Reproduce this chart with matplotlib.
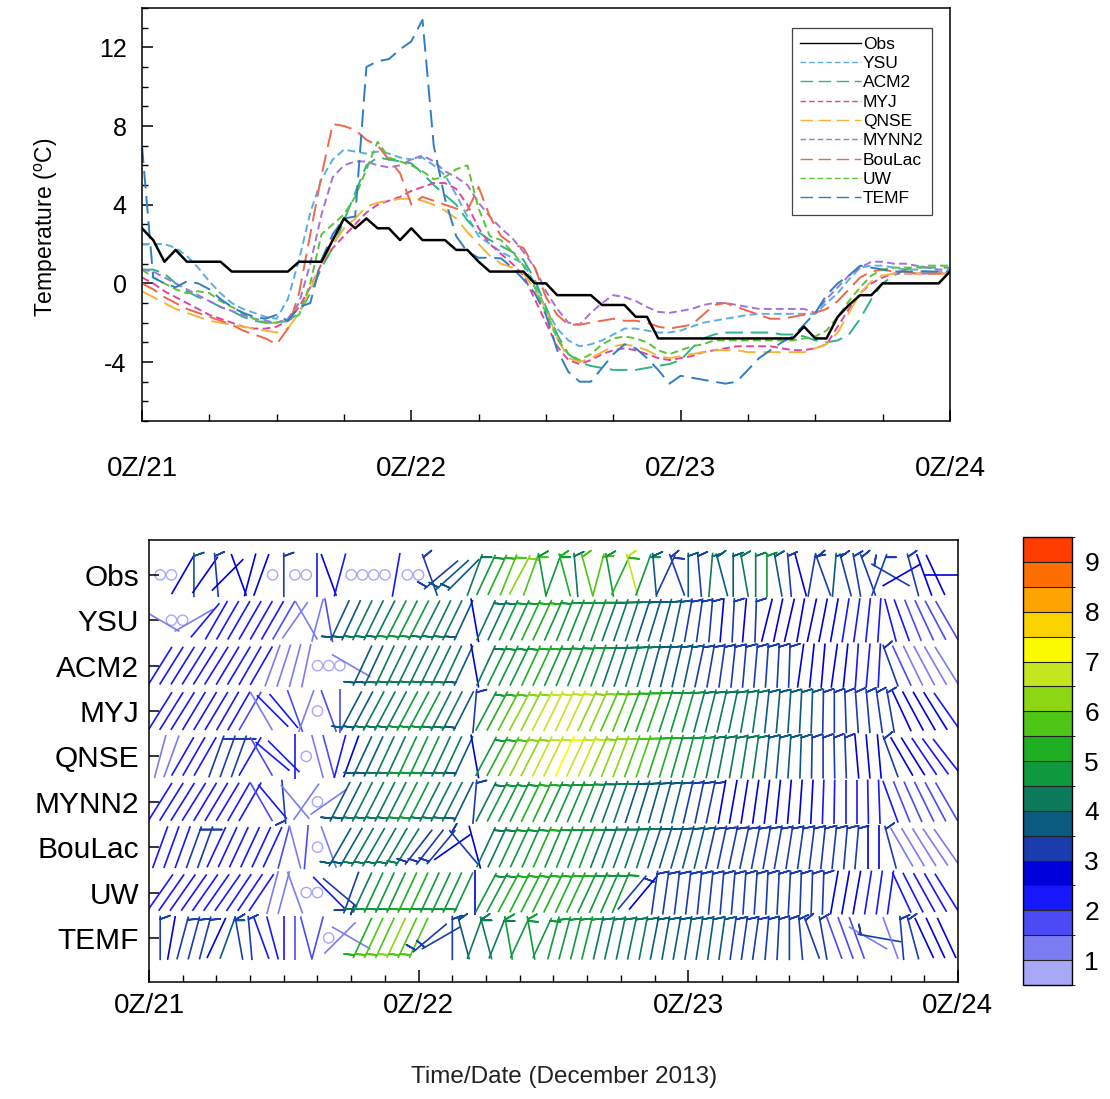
import numpy as np
import matplotlib
matplotlib.use("Agg")
import matplotlib.pyplot as plt
from matplotlib.collections import LineCollection
from matplotlib.colors import ListedColormap, BoundaryNorm
from matplotlib.transforms import Affine2D
from matplotlib.cm import ScalarMappable

plt.rcParams['font.family'] = ['Liberation Sans', 'DejaVu Sans']
plt.rcParams['mathtext.default'] = 'regular'
plt.rcParams['axes.unicode_minus'] = False

# ---------------- temperature (hourly, 0Z/21 .. 0Z/24) ----------------
hours = np.arange(73)

obs_t = [2.8, 2.2, 1.1, 1.7, 1.1, 1.1, 1.1, 1.1, 0.6, 0.6,
         0.6, 0.6, 0.6, 0.6, 1.1, 1.1, 1.1, 2.2, 3.3, 2.8,
         3.3, 2.8, 2.8, 2.2, 2.8, 2.2, 2.2, 2.2, 1.7, 1.7,
         1.1, 0.6, 0.6, 0.6, 0.6, 0.0, 0.0, -0.6, -0.6, -0.6,
         -0.6, -1.1, -1.1, -1.1, -1.7, -1.7, -2.8, -2.8, -2.8, -2.8,
         -2.8, -2.8, -2.8, -2.8, -2.8, -2.8, -2.8, -2.8, -2.8, -2.2,
         -2.8, -2.8, -1.7, -1.1, -0.6, -0.6, 0.0, 0.0, 0.0, 0.0,
         0.0, 0.0, 0.6]

ysu_t = [2.0, 2.0, 2.0, 1.8, 1.4, 0.8, 0.1, -0.5, -1.0, -1.3,
         -1.5, -1.7, -1.8, -0.8, 1.2, 3.6, 5.3, 6.3, 6.8, 6.7,
         6.6, 6.7, 6.6, 6.4, 6.3, 6.4, 6.0, 5.5, 4.5, 3.4,
         2.4, 2.0, 1.6, 1.3, 1.0, 0.0, -1.3, -2.3, -2.9, -3.2,
         -3.1, -2.9, -2.6, -2.3, -2.3, -2.4, -2.5, -2.5, -2.4, -2.2,
         -2.0, -1.9, -1.8, -1.7, -1.6, -1.55, -1.55, -1.55, -1.55, -1.55,
         -1.55, -1.0, -0.5, 0.2, 0.8, 0.9, 0.9, 0.8, 0.7, 0.7,
         0.6, 0.6, 0.6]

acm2_t = [0.7, 0.7, 0.5, 0.0, -0.4, -0.7, -0.9, -1.2, -1.4, -1.7,
          -1.9, -2.0, -2.0, -1.9, -1.5, -0.5, 0.8, 1.8, 3.2, 4.6,
          6.0, 6.4, 6.3, 6.2, 6.1, 5.6, 5.0, 4.5, 4.0, 3.2,
          2.6, 2.2, 1.9, 1.6, 1.2, 0.2, -1.2, -2.6, -3.6, -4.0,
          -4.2, -4.3, -4.4, -4.4, -4.4, -4.3, -4.2, -4.1, -3.9, -3.3,
          -2.8, -2.6, -2.5, -2.5, -2.5, -2.5, -2.5, -2.6, -2.6, -2.7,
          -2.9, -3.0, -2.9, -2.6, -1.8, -0.8, 0.0, 0.4, 0.7, 0.8,
          0.8, 0.8, 0.8]

myj_t = [0.3, 0.0, -0.4, -0.7, -1.0, -1.3, -1.6, -1.8, -2.0, -2.2,
         -2.3, -2.3, -2.2, -1.9, -1.2, -0.2, 1.0, 1.8, 2.4, 3.0,
         3.6, 4.0, 4.2, 4.4, 4.7, 4.9, 5.1, 5.1, 4.8, 4.0,
         2.8, 2.0, 1.5, 1.0, 0.4, -0.8, -2.0, -3.2, -3.9, -4.1,
         -3.9, -3.6, -3.4, -3.3, -3.4, -3.6, -3.8, -3.9, -3.8, -3.7,
         -3.5, -3.4, -3.3, -3.2, -3.2, -3.2, -3.2, -3.3, -3.4, -3.4,
         -3.3, -3.1, -2.2, -1.3, -0.5, 0.0, 0.3, 0.5, 0.5, 0.5,
         0.5, 0.5, 0.5]

qnse_t = [-0.4, -0.7, -1.0, -1.3, -1.5, -1.7, -1.9, -2.0, -2.1, -2.2,
          -2.3, -2.4, -2.5, -2.3, -1.5, -0.3, 1.0, 2.0, 2.8, 3.3,
          3.9, 4.1, 4.2, 4.3, 4.3, 4.2, 4.0, 3.7, 3.3, 2.6,
          2.0, 1.4, 1.0, 0.8, 0.5, -0.3, -1.3, -2.8, -3.8, -4.0,
          -3.8, -3.5, -3.2, -3.1, -3.2, -3.4, -3.7, -3.8, -3.7, -3.6,
          -3.5, -3.4, -3.4, -3.4, -3.5, -3.5, -3.5, -3.5, -3.5, -3.5,
          -3.3, -3.1, -2.5, -1.5, -0.5, 0.1, 0.4, 0.5, 0.5, 0.5,
          0.5, 0.5, 0.5]

mynn2_t = [0.7, 0.6, 0.3, 0.0, -0.3, -0.6, -0.9, -1.2, -1.4, -1.6,
           -1.8, -1.9, -2.0, -1.8, -1.0, 1.0, 3.5, 5.4, 6.0, 6.2,
           6.2, 6.0, 5.9, 6.0, 6.3, 6.5, 6.2, 5.7, 5.4, 5.0,
           4.1, 3.4, 2.8, 2.3, 1.6, 0.8, -0.4, -1.3, -2.0, -2.1,
           -1.5, -1.0, -0.6, -0.7, -0.9, -1.2, -1.45, -1.5, -1.4, -1.3,
           -1.1, -1.0, -1.0, -1.1, -1.2, -1.3, -1.3, -1.3, -1.3, -1.3,
           -1.5, -0.8, -0.2, 0.4, 0.8, 1.1, 1.1, 1.0, 1.0, 0.9,
           0.8, 0.7, 0.7]

boulac_t = [0.0, -0.3, -0.7, -1.0, -1.3, -1.5, -1.7, -1.9, -2.1, -2.4,
            -2.6, -2.8, -3.1, -2.3, -0.5, 2.5, 5.5, 8.1, 8.0, 7.8,
            7.3, 7.0, 6.3, 5.6, 4.0, 4.4, 4.2, 4.0, 3.8, 3.7,
            4.9, 3.4, 2.4, 2.0, 1.8, 0.8, -0.7, -1.6, -2.1, -2.1,
            -2.0, -1.9, -1.8, -1.9, -1.9, -2.0, -2.2, -2.3, -2.2, -2.1,
            -1.6, -1.1, -1.0, -1.2, -1.4, -1.6, -1.8, -1.8, -1.7, -1.6,
            -1.5, -1.3, -0.9, -0.3, 0.3, 0.6, 0.7, 0.6, 0.6, 0.5,
            0.5, 0.5, 0.5]

uw_t = [0.7, 0.3, 0.0, -0.3, -0.5, -0.4, -0.5, -0.9, -1.2, -1.5,
        -1.8, -2.0, -2.0, -1.9, -1.6, 0.0, 2.5, 3.0, 3.5, 4.4,
        5.8, 7.2, 6.4, 6.2, 6.0, 5.7, 5.3, 5.4, 5.8, 6.0,
        3.8, 2.4, 2.2, 1.6, 0.9, -0.2, -1.5, -2.8, -3.6, -3.9,
        -3.6, -3.1, -2.8, -2.7, -2.8, -3.0, -3.4, -3.6, -3.4, -3.2,
        -3.1, -2.9, -2.9, -2.9, -2.9, -2.9, -2.9, -2.9, -2.9, -2.8,
        -2.7, -2.4, -1.7, -0.9, -0.2, 0.4, 0.7, 0.8, 0.8, 0.8,
        0.9, 0.9, 0.9]

temf_t = [7.0, 0.3, 0.0, -0.2, 0.1, 0.0, -0.3, -0.8, -1.2, -1.5,
          -1.7, -1.8, -1.6, -1.9, -1.2, -1.0, 1.2, 2.5, 3.3, 3.4,
          11.0, 11.3, 11.4, 11.9, 12.3, 13.4, 7.0, 4.3, 2.4, 1.6,
          1.3, 1.3, 1.27, 0.8, 0.2, -0.5, -1.6, -3.4, -4.5, -5.0,
          -5.0, -4.3, -3.6, -3.1, -3.3, -3.8, -4.4, -5.1, -4.7, -4.8,
          -4.9, -5.0, -5.1, -5.0, -4.4, -3.8, -3.4, -3.0, -2.7, -2.1,
          -1.5, -0.6, 0.0, 0.4, 0.9, 0.8, 0.7, 0.6, 0.6, 0.6,
          0.6, 0.6, 0.6]

model_names = ['YSU', 'ACM2', 'MYJ', 'QNSE', 'MYNN2', 'BouLac', 'UW', 'TEMF']
model_temps = [ysu_t, acm2_t, myj_t, qnse_t, mynn2_t, boulac_t, uw_t, temf_t]
model_colors = ['#5aaee2', '#2fb488', '#e0449e', '#f4b43a', '#a472dc', '#f0674c', '#5cc23a', '#2f7ec2']
short = (4, 2.2)
long_ = (9, 4)
model_dashes = [short, long_, short, long_, short, long_, short, long_]

# ---------------- wind barbs (hourly, 1Z/21 .. 23Z/23) ----------------
wind_hours = np.arange(1, 72)
rows = ['Obs', 'YSU', 'ACM2', 'MYJ', 'QNSE', 'MYNN2', 'BouLac', 'UW', 'TEMF']

obs_dir = [0, 0, 210, 0, 215, 355, 225, 160, 195, 200,
           0, 0, 0, 0, 180, 160, 195, 0, 0, 0,
           0, 190, 0, 0, 340, 230, 228, 225, 20, 25,
           25, 22, 28, 20, 350, 20, 345, 355, 345, 15,
           350, 25, 345, 20, 355, 25, 340, 0, 355, 5,
           345, 0, 350, 0, 0, 350, 355, 345, 10, 340,
           5, 345, 350, 340, 20, 300, 60, 345, 340, 335, 270]
obs_spd = [0.3, 0.3, 2.6, 3.5, 2.5, 3.4, 2.6, 2.9, 2.9, 2.5,
           0.3, 3.2, 0.3, 0.3, 2.4, 2.5, 2.3, 0.3, 0.3, 0.3,
           0.3, 2.4, 0.3, 0.3, 3.2, 3.3, 3.6, 3.8, 4.3, 4.6,
           5.2, 5.8, 6.3, 5.5, 4.8, 4.6, 5.0, 4.2, 5.8, 5.5,
           4.5, 5.0, 6.5, 4.5, 3.5, 3.2, 3.0, 3.8, 3.4, 4.0,
           3.8, 3.6, 4.4, 4.0, 4.6, 3.8, 3.3, 2.9, 3.0, 3.2,
           3.8, 3.4, 3.3, 3.1, 3.2, 3.0, 2.7, 3.2, 2.8, 2.8, 2.5]

ysu_dir = [120, 0, 0, 240, 220, 210, 210, 210, 210, 210,
           210, 210, 215, 150, 195, 170, 205, 205, 206, 206,
           207, 207, 207, 207, 207, 206, 206, 205, 350, 25,
           25, 25, 25, 25, 25, 24, 22, 22, 21, 20,
           20, 19, 18, 18, 17, 15, 12, 10, 8, 5,
           5, 3, 5, 2, 14, 12, 13, 10, 12, 11,
           10, 9, 8, 6, 4, 345, 340, 338, 335, 332, 330]
ysu_spd = [1.0, 0.3, 0.3, 1.3, 2.0, 2.2, 2.3, 2.3, 2.2, 2.1,
           2.0, 1.8, 1.3, 1.0, 1.3, 1.5, 3.6, 3.8, 4.0, 4.2,
           4.3, 4.5, 4.6, 4.5, 4.4, 4.3, 4.0, 3.7, 2.8, 4.0,
           4.3, 4.6, 4.8, 5.0, 5.0, 4.9, 4.8, 4.7, 4.6, 4.5,
           4.4, 4.2, 4.0, 3.9, 3.8, 3.6, 3.5, 3.4, 3.3, 3.2,
           2.9, 3.1, 2.8, 3.1, 2.8, 2.7, 2.7, 2.6, 2.6, 2.5,
           2.5, 2.4, 2.4, 2.3, 2.2, 2.1, 2.0, 1.9, 1.8, 1.7, 1.6]

acm2_dir = [212, 212, 212, 212, 212, 212, 211, 211, 210, 210,
            200, 198, 195, 192, 0, 0, 0, 300, 205, 205,
            205, 206, 206, 206, 206, 206, 205, 205, 350, 25,
            26, 26, 26, 25, 25, 24, 23, 22, 21, 20,
            19, 18, 17, 16, 15, 14, 13, 12, 12, 10,
            8, 6, 5, 5, 4, 3, 2, 8, 6, 5,
            8, 6, 4, 5, 3, 340, 335, 334, 332, 330, 328]
acm2_spd = [2.4, 2.4, 2.3, 2.3, 2.3, 2.2, 2.2, 2.1, 2.0, 2.0,
            1.3, 1.2, 1.1, 1.0, 0.3, 0.3, 0.3, 1.2, 3.6, 3.8,
            4.0, 4.1, 4.2, 4.3, 4.3, 4.2, 4.0, 3.7, 2.8, 4.2,
            4.5, 4.7, 4.9, 5.0, 5.0, 4.9, 4.8, 4.7, 4.6, 4.5,
            4.4, 4.3, 4.1, 4.0, 3.9, 3.8, 3.6, 3.5, 3.4, 3.3,
            3.2, 3.1, 3.1, 3.2, 3.1, 3.1, 3.0, 2.8, 2.7, 2.6,
            2.6, 2.5, 2.4, 2.3, 2.2, 3.0, 1.5, 1.4, 1.3, 1.2, 1.2]

myj_dir = [212, 212, 212, 211, 211, 211, 210, 210, 30, 150,
           135, 140, 160, 200, 0, 160, 180, 208, 208, 208,
           208, 208, 208, 208, 208, 207, 207, 207, 5, 28,
           28, 28, 28, 27, 27, 26, 25, 25, 25, 24,
           24, 22, 21, 20, 19, 18, 17, 16, 15, 14,
           13, 12, 10, 8, 6, 5, 4, 3, 2, 1,
           0, 358, 356, 355, 352, 350, 335, 332, 330, 328, 325]
myj_spd = [2.3, 2.3, 2.3, 2.3, 2.3, 2.2, 2.2, 2.2, 1.8, 1.2,
           2.0, 2.0, 1.6, 1.2, 0.3, 1.5, 1.8, 3.5, 3.8, 4.0,
           4.2, 4.4, 4.5, 4.5, 4.5, 4.3, 4.0, 3.8, 3.2, 4.8,
           5.2, 5.6, 6.0, 6.3, 6.5, 6.6, 6.6, 6.5, 6.3, 6.0,
           5.8, 5.6, 5.4, 5.2, 5.0, 4.8, 4.6, 4.5, 4.4, 4.3,
           4.2, 4.1, 4.0, 4.0, 3.9, 3.8, 3.7, 3.6, 3.5, 3.4,
           3.4, 3.3, 3.2, 3.2, 3.1, 3.0, 2.8, 2.7, 2.6, 2.5, 2.4]

qnse_dir = [195, 200, 210, 210, 210, 20, 20, 20, 210, 150,
            130, 135, 180, 0, 165, 165, 195, 200, 205, 205,
            205, 205, 205, 205, 205, 205, 205, 205, 350, 28,
            28, 28, 27, 27, 26, 26, 25, 25, 24, 24,
            22, 21, 20, 19, 18, 17, 16, 15, 14, 12,
            11, 10, 9, 8, 6, 5, 4, 2, 1, 0,
            359, 358, 355, 355, 355, 340, 330, 328, 326, 324, 322]
qnse_spd = [1.2, 1.3, 2.2, 2.2, 2.2, 3.2, 3.2, 3.2, 2.3, 1.5,
            2.0, 2.2, 2.0, 0.3, 1.3, 1.5, 2.2, 2.8, 3.6, 3.9,
            4.1, 4.3, 4.5, 4.6, 4.6, 4.4, 4.2, 3.9, 2.8, 4.6,
            5.0, 5.5, 6.0, 6.4, 6.7, 6.9, 7.0, 6.9, 6.7, 6.4,
            6.2, 6.0, 5.8, 5.5, 5.3, 5.1, 4.9, 4.7, 4.5, 4.4,
            4.3, 4.2, 4.1, 4.0, 3.9, 3.8, 3.6, 3.5, 3.4, 3.3,
            3.2, 3.1, 2.8, 2.8, 2.8, 3.0, 2.6, 2.5, 2.4, 2.3, 2.2]

mynn2_dir = [212, 212, 212, 212, 211, 211, 211, 210, 210, 150,
             140, 175, 140, 215, 0, 235, 207, 207, 207, 207,
             207, 207, 207, 207, 207, 207, 207, 206, 5, 27,
             27, 27, 26, 26, 25, 25, 24, 23, 22, 21,
             20, 19, 18, 17, 16, 15, 14, 13, 12, 12,
             10, 10, 9, 8, 7, 6, 5, 4, 3, 2,
             1, 0, 0, 359, 358, 340, 338, 336, 334, 332, 330]
mynn2_spd = [2.3, 2.3, 2.3, 2.3, 2.3, 2.2, 2.2, 2.2, 2.1, 1.5,
             2.0, 3.0, 1.3, 1.0, 0.3, 1.3, 3.5, 3.8, 4.0, 4.1,
             4.3, 4.4, 4.5, 4.5, 4.4, 4.2, 4.0, 3.7, 3.1, 4.3,
             4.5, 4.7, 4.9, 5.0, 5.0, 4.9, 4.8, 4.6, 4.5, 4.3,
             4.2, 4.0, 3.9, 3.8, 3.7, 3.6, 3.5, 3.4, 3.3, 3.2,
             2.9, 2.8, 2.8, 2.7, 2.7, 2.6, 2.6, 2.5, 2.5, 2.4,
             2.4, 2.3, 2.3, 2.3, 2.2, 2.0, 1.9, 1.8, 1.7, 1.6, 1.5]

boulac_dir = [200, 200, 200, 20, 20, 205, 205, 205, 205, 205,
              205, 195, 165, 185, 0, 160, 210, 210, 210, 210,
              210, 210, 212, 218, 218, 220, 235, 320, 345, 25,
              25, 25, 25, 24, 24, 23, 22, 22, 21, 21,
              20, 20, 19, 18, 18, 17, 16, 15, 14, 13,
              12, 12, 12, 11, 10, 10, 9, 8, 7, 6,
              6, 5, 5, 0, 0, 345, 330, 329, 328, 326, 325]
boulac_spd = [2.4, 2.4, 2.4, 3.2, 3.1, 2.3, 2.2, 2.2, 2.1, 2.0,
              2.0, 1.5, 1.3, 1.5, 0.3, 1.2, 3.6, 3.8, 4.0, 4.2,
              4.3, 4.4, 4.3, 3.3, 3.2, 3.1, 2.7, 3.2, 2.9, 4.2,
              4.4, 4.6, 4.8, 4.9, 5.0, 4.9, 4.8, 4.7, 4.5, 4.4,
              4.3, 4.2, 4.1, 4.0, 3.9, 3.8, 3.7, 3.6, 3.5, 3.4,
              3.4, 3.3, 3.3, 3.3, 3.2, 3.2, 3.1, 3.1, 3.0, 3.0,
              3.0, 3.0, 3.0, 2.7, 2.7, 3.0, 1.4, 1.3, 1.2, 1.1, 1.1]

uw_dir = [215, 215, 215, 215, 215, 215, 215, 214, 214, 214,
          195, 195, 160, 0, 0, 135, 130, 200, 205, 205,
          205, 205, 205, 205, 205, 205, 205, 205, 180, 28,
          28, 28, 27, 27, 26, 26, 25, 25, 25, 24,
          24, 23, 40, 40, 8, 8, 7, 7, 6, 6,
          5, 5, 4, 4, 3, 3, 3, 2, 2, 2,
          10, 10, 10, 9, 8, 8, 335, 333, 331, 330, 328]
uw_spd = [2.0, 2.1, 2.1, 2.2, 2.2, 2.3, 2.3, 2.3, 2.2, 2.2,
          1.2, 1.2, 1.1, 0.3, 0.3, 2.0, 3.1, 3.3, 4.2, 4.5,
          4.7, 4.9, 5.0, 5.0, 4.9, 4.8, 4.6, 4.5, 2.8, 4.5,
          4.8, 5.0, 5.2, 5.3, 5.3, 5.2, 5.1, 5.0, 4.9, 4.8,
          4.7, 4.6, 3.0, 2.9, 3.4, 3.4, 3.3, 3.3, 3.3, 3.2,
          3.2, 3.2, 3.1, 3.1, 3.1, 3.1, 3.0, 3.0, 3.0, 3.0,
          2.6, 2.5, 2.5, 2.4, 2.4, 2.3, 2.3, 2.2, 2.1, 2.0, 2.0]

temf_dir = [0, 190, 15, 15, 15, 25, 20, 350, 355, 340,
            165, 180, 180, 165, 195, 0, 225, 300, 205, 205,
            205, 205, 205, 205, 230, 240, 0, 345, 20, 345,
            22, 350, 25, 350, 25, 15, 15, 14, 14, 13,
            13, 12, 12, 11, 11, 10, 10, 9, 9, 8,
            8, 8, 8, 8, 5, 3, 0, 355, 340, 350,
            340, 340, 340, 300, 280, 340, 355, 345, 335, 335, 335]
temf_spd = [3.2, 2.5, 3.3, 3.3, 3.3, 2.6, 3.5, 3.3, 3.0, 2.3,
            2.2, 2.0, 1.8, 1.6, 1.5, 0.3, 1.2, 1.1, 5.2, 5.5,
            5.8, 6.0, 5.8, 5.5, 3.2, 3.0, 3.3, 3.6, 4.0, 4.2,
            4.4, 4.5, 4.6, 4.7, 4.8, 4.8, 4.7, 4.6, 4.5, 4.4,
            4.3, 4.2, 4.1, 4.0, 3.9, 3.8, 3.8, 3.7, 3.6, 3.5,
            3.5, 3.4, 3.4, 3.3, 3.3, 3.2, 3.2, 3.1, 3.0, 3.0,
            1.5, 1.5, 1.5, 1.3, 3.0, 1.4, 3.1, 3.0, 2.5, 2.5, 2.5]

row_dirs = [obs_dir, ysu_dir, acm2_dir, myj_dir, qnse_dir, mynn2_dir, boulac_dir, uw_dir, temf_dir]
row_spds = [obs_spd, ysu_spd, acm2_spd, myj_spd, qnse_spd, mynn2_spd, boulac_spd, uw_spd, temf_spd]

speed_levels = np.arange(0.5, 9.51, 0.5)
speed_colors = ['#a8a8f8', '#7c7cf2', '#4b4bf5', '#1717fb', '#0000dc', '#1a3cac',
                '#0b5a80', '#0d7a5c', '#0e9a3c', '#1eb022', '#4ec616', '#8cd614',
                '#c4e61e', '#fbfb00', '#fcd200', '#fda400', '#fe6e00', '#fe3c00']
tick_labels = ['0Z/21', '0Z/22', '0Z/23', '0Z/24']

cmap = ListedColormap(speed_colors)
cmap.set_under(speed_colors[0])
cmap.set_over(speed_colors[-1])
norm = BoundaryNorm(speed_levels, cmap.N)

fig = plt.figure(figsize=(11.1, 10.99), dpi=100)

# ---------------- top panel ----------------
ax1 = fig.add_axes([0.1279, 0.6169, 0.7279, 0.3758])
ax1.plot(hours, obs_t, color='black', lw=1.8, label='Obs', zorder=5)
for name, t, c, ds in zip(model_names, model_temps, model_colors, model_dashes):
    ax1.plot(hours, t, color=c, lw=1.4, dashes=ds, label=name)
ax1.set_xlim(0, 72)
ax1.set_ylim(-7, 14)
ax1.set_xticks([0, 24, 48, 72])
ax1.set_xticklabels(tick_labels)
ax1.set_xticks(np.arange(0, 73, 6), minor=True)
ax1.set_yticks([-4, 0, 4, 8, 12])
ax1.set_yticks(np.arange(-7, 15, 1), minor=True)
ax1.tick_params(which='both', direction='in', top=False, right=False)
ax1.tick_params(axis='x', which='major', length=8, width=1.1, labelsize=20, pad=25)
ax1.tick_params(axis='x', which='minor', length=5, width=1)
ax1.tick_params(axis='y', which='major', length=8, width=1.1, labelsize=18, pad=11)
ax1.tick_params(axis='y', which='minor', length=4, width=1)
ax1.set_ylabel('Temperature ($^{o}$C)', fontsize=16.5)
ax1.yaxis.set_label_coords(-0.101, 0.47)
for sp in ax1.spines.values():
    sp.set_linewidth(1.1)
leg = ax1.legend(loc='upper right', bbox_to_anchor=(0.978, 0.952), borderaxespad=0,
                 fontsize=12.5, handlelength=3.5, handletextpad=0.1, labelspacing=0.24,
                 borderpad=0.5, fancybox=False, framealpha=1, edgecolor='#444444')
leg.get_frame().set_linewidth(0.9)
for ln in leg.get_lines():
    ln.set_linewidth(1.0)

# ---------------- bottom panel: wind barbs ----------------
ax2 = fig.add_axes([0.1342, 0.1065, 0.7288, 0.4022])
ax2.set_xlim(0, 72)
ax2.set_ylim(-0.97, 8.77)

shaft = 32.0      # points
tick = 7.5
inset = 2.5
tick_ang = np.deg2rad(70)
to_px = Affine2D().scale(fig.dpi / 72.0)

segs, offs, vals = [], [], []
calm_x, calm_y, calm_s = [], [], []
for i, (dirs, spds) in enumerate(zip(row_dirs, row_spds)):
    yrow = 8 - i
    for h, d, s in zip(wind_hours, dirs, spds):
        if s < 0.5:
            calm_x.append(h); calm_y.append(yrow); calm_s.append(s)
            continue
        a = np.deg2rad(d)
        ux, uy = np.sin(a), np.cos(a)
        p0 = (-ux * shaft / 2, -uy * shaft / 2)
        p1 = (ux * shaft / 2, uy * shaft / 2)
        if s >= 3.0:
            bx, by = ux * (shaft / 2 - inset), uy * (shaft / 2 - inset)
            tip = (bx + np.sin(a + tick_ang) * tick, by + np.cos(a + tick_ang) * tick)
            path = [p0, (bx, by), tip, (bx, by), p1]
        else:
            path = [p0, p1]
        segs.append(path)
        offs.append((h, yrow))
        vals.append(s)

lc = LineCollection(segs, offsets=offs, offset_transform=ax2.transData,
                    transform=to_px, cmap=cmap, norm=norm, linewidths=1.2)
lc.set_array(np.array(vals))
ax2.add_collection(lc, autolim=False)
ax2.scatter(calm_x, calm_y, s=55, facecolors='none',
            edgecolors=cmap(norm(np.array(calm_s))), linewidths=1.0)

ax2.set_yticks(np.arange(9))
ax2.set_yticklabels(rows[::-1])
ax2.set_xticks([0, 24, 48, 72])
ax2.set_xticklabels(tick_labels)
ax2.set_xticks(np.arange(0, 73, 3), minor=True)
ax2.tick_params(which='both', direction='in', top=False, right=False)
ax2.tick_params(axis='x', which='major', length=9, width=1.1, labelsize=20, pad=8)
ax2.tick_params(axis='x', which='minor', length=5, width=1)
ax2.tick_params(axis='y', which='major', length=7, width=1.1, labelsize=21.5, pad=7)
ax2.set_xlabel('Time/Date (December 2013)', fontsize=17.5, color='#222222')
ax2.xaxis.set_label_coords(0.513, -0.19)
for sp in ax2.spines.values():
    sp.set_linewidth(1.1)

# ---------------- colorbar ----------------
cax = fig.add_axes([0.9216, 0.1037, 0.0441, 0.4076])
cb = fig.colorbar(ScalarMappable(norm=norm, cmap=cmap), cax=cax,
                  ticks=np.arange(1, 10), drawedges=True)
cb.dividers.set_color('#222222')
cb.dividers.set_linewidth(0.8)
cb.outline.set_linewidth(1.0)
cax.tick_params(length=0, labelsize=19, pad=9)

fig.savefig('out.png', dpi=100)
